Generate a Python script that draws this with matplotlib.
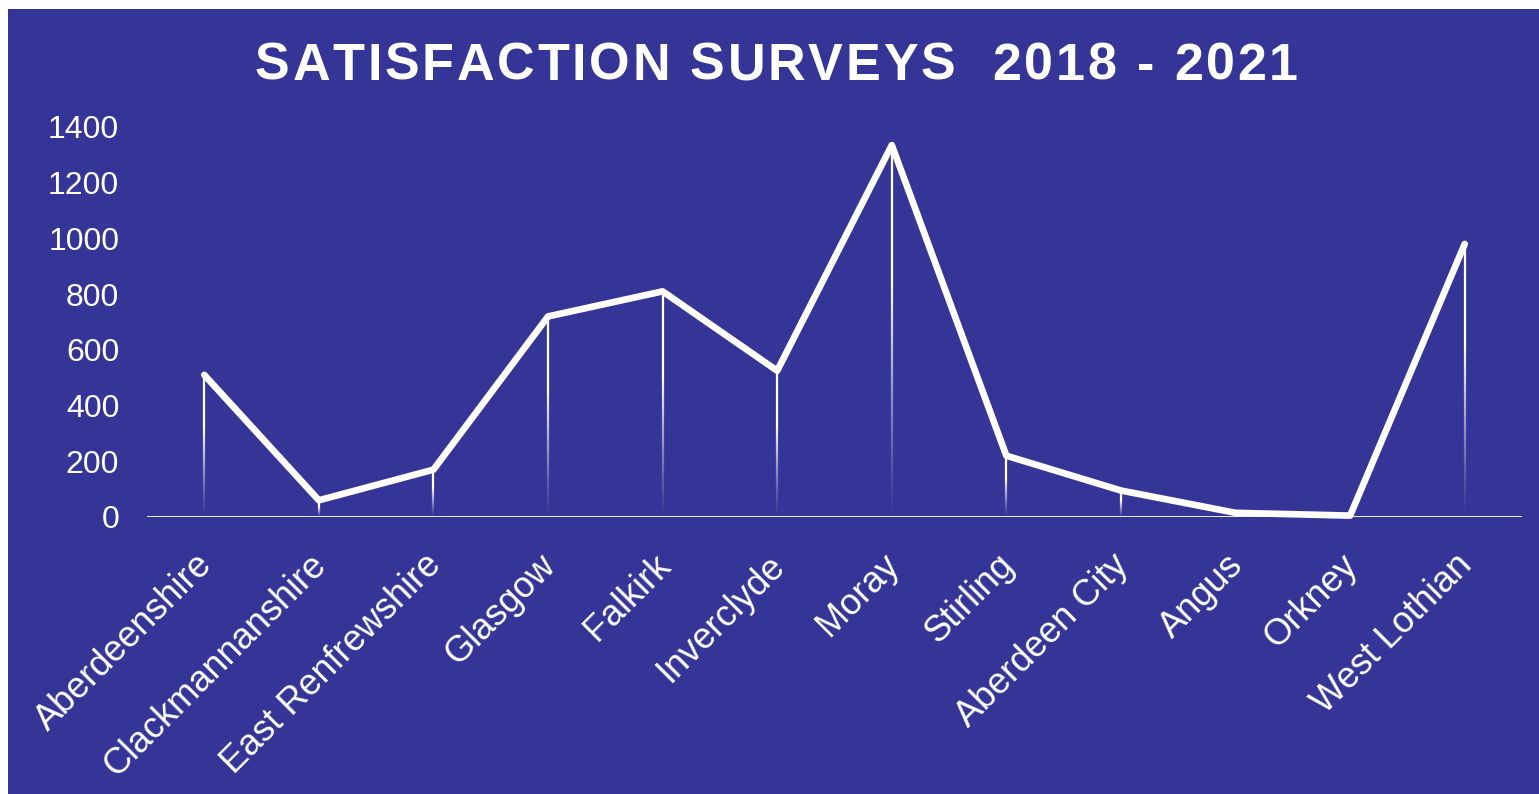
import matplotlib
matplotlib.use("Agg")
import matplotlib.pyplot as plt
import matplotlib.transforms as mtransforms
import numpy as np
from matplotlib.collections import LineCollection
from matplotlib.patches import Rectangle

categories = ["Aberdeenshire", "Clackmannanshire", "East Renfrewshire", "Glasgow",
              "Falkirk", "Inverclyde", "Moray", "Stirling", "Aberdeen City",
              "Angus", "Orkney", "West Lothian"]
values = [510, 60, 170, 720, 810, 525, 1335, 220, 95, 15, 5, 980]
yticks = [0, 200, 400, 600, 800, 1000, 1200, 1400]
title = "SATISFACTION SURVEYS  2018 - 2021"

BG = "#353597"
W, H = 1539, 794
fig = plt.figure(figsize=(W/100, H/100), dpi=100)
fig.patch.set_facecolor("white")
bg = Rectangle((8/W, 0), 1, 1 - 9/H, transform=fig.transFigure,
               facecolor=BG, edgecolor="none", zorder=-10)
fig.patches.append(bg)

ax = fig.add_axes([147/W, 1 - 517/H, (1522-147)/W, (517-127)/H])
ax.set_zorder(5)
ax.set_facecolor("none")
x = np.arange(len(categories))
ax.set_xlim(-0.5, len(categories) - 0.5)
ax.set_ylim(0, 1400)

# gradient drop lines
for xi, v in zip(x, values):
    n = 60
    ys = np.linspace(0, v, n + 1)
    segs = [[(xi, ys[i]), (xi, ys[i+1])] for i in range(n)]
    frac = (np.arange(n) + 0.5) / n
    alphas = np.clip(frac * 1.6, 0, 1) ** 1.2
    cols = [(1, 1, 1, a) for a in alphas]
    ax.add_collection(LineCollection(segs, colors=cols, linewidths=1.6, zorder=2))

ax.plot(x, values, color="white", lw=4.8, solid_joinstyle="round",
        solid_capstyle="round", zorder=3, clip_on=False)
ax.axhline(0, color="white", lw=2, zorder=2.5)

for s in ax.spines.values():
    s.set_visible(False)
ax.set_yticks(yticks)
ax.set_yticklabels([str(t) for t in yticks])
ax.set_xticks(x)
ax.set_xticklabels(categories, rotation=45, ha="right", rotation_mode="anchor")
ax.tick_params(axis="both", length=0, colors="white")
ax.tick_params(axis="y", pad=20, labelsize=23)
ax.tick_params(axis="x", pad=22, labelsize=26)
offset = mtransforms.ScaledTranslation(-10/100, 0, fig.dpi_scale_trans)
for lab in ax.get_xticklabels():
    lab.set_fontfamily("Liberation Sans")
    lab.set_transform(lab.get_transform() + offset)
for lab in ax.get_yticklabels():
    lab.set_fontfamily("Liberation Sans")

# letter-spaced title
fig.canvas.draw()
renderer = fig.canvas.get_renderer()
tkw = dict(color="white", fontsize=37.5, fontweight="bold", family="Liberation Sans",
           va="baseline", ha="left")
target_left, target_right = 255, 1298
widths = []
for ch in title:
    if ch == " ":
        t = fig.text(0, 0, "a a", **tkw)
        w_all = t.get_window_extent(renderer).width
        t.remove()
        t = fig.text(0, 0, "aa", **tkw)
        w_aa = t.get_window_extent(renderer).width
        t.remove()
        widths.append(w_all - w_aa)
    else:
        t = fig.text(0, 0, ch, **tkw)
        widths.append(t.get_window_extent(renderer).width)
        t.remove()
spacing = (target_right - target_left - sum(widths)) / (len(title) - 1)
xpos = target_left
for ch, w in zip(title, widths):
    if ch != " ":
        fig.text(xpos / W, 1 - 80 / H, ch, **tkw)
    xpos += w + spacing

fig.savefig("out.png", dpi=100, facecolor=fig.get_facecolor())
